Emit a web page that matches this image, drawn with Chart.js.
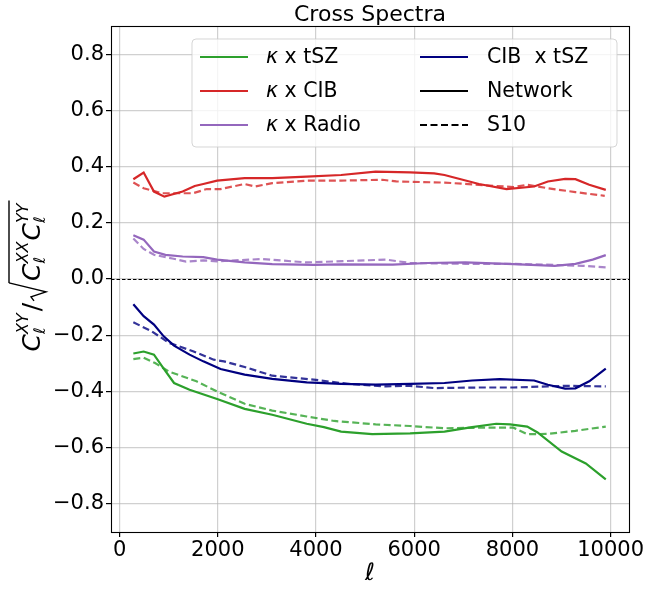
<!DOCTYPE html>
<html>
<head>
<meta charset="utf-8">
<script src="https://cdn.jsdelivr.net/npm/chart.js@4.4.1/dist/chart.umd.min.js"></script>
<style>
html,body{margin:0;padding:0;background:#fff;}
#wrap{width:647px;height:589px;position:relative;}
</style>
</head>
<body>
<div id="wrap"><canvas id="c" width="647" height="589"></canvas></div>
<script>
// ---- data ----
const xTicks = [0, 2000, 4000, 6000, 8000, 10000];
const yTicks = [-0.8, -0.6, -0.4, -0.2, 0.0, 0.2, 0.4, 0.6, 0.8];

const ellTszNet = [280,490,700,898,1109,1425,1986,2547,3109,3811,4161,4512,5144,5916,6617,7179,7670,7951,8302,8512,9004,9495,9902];
const tszNet    = [-0.265,-0.258,-0.269,-0.319,-0.370,-0.394,-0.427,-0.462,-0.483,-0.515,-0.527,-0.543,-0.552,-0.549,-0.543,-0.527,-0.515,-0.517,-0.525,-0.546,-0.614,-0.656,-0.713];
const ellTszS10 = [280,490,723,1004,1565,1986,2547,3109,3811,4372,5214,5916,6617,7319,8021,8302,8723,9284,9902];
const tszS10    = [-0.285,-0.280,-0.299,-0.329,-0.364,-0.400,-0.444,-0.468,-0.489,-0.505,-0.517,-0.523,-0.531,-0.529,-0.529,-0.552,-0.551,-0.540,-0.525];

const ellCibNet = [280,490,700,912,1284,1530,1705,1986,2547,3109,3811,4512,5214,5916,6407,6617,7319,7880,8442,8723,9074,9284,9565,9902];
const cibNet    = [0.355,0.379,0.311,0.293,0.311,0.331,0.338,0.350,0.359,0.359,0.364,0.370,0.382,0.379,0.376,0.370,0.338,0.320,0.329,0.347,0.356,0.355,0.335,0.317];
const ellCibS10 = [280,490,863,1004,1495,1775,2056,2547,2758,3109,3811,4512,5354,5635,6617,7319,8021,8302,8723,9284,9881];
const cibS10    = [0.343,0.323,0.305,0.305,0.305,0.320,0.320,0.338,0.329,0.341,0.350,0.350,0.353,0.347,0.343,0.335,0.327,0.335,0.323,0.309,0.296];

const ellRadNet = [280,490,700,933,1284,1705,1986,2547,3109,3951,4512,5565,6267,7039,8021,8863,9284,9635,9902];
const radNet    = [0.156,0.140,0.098,0.086,0.080,0.078,0.069,0.059,0.053,0.050,0.052,0.051,0.057,0.059,0.053,0.047,0.054,0.069,0.085];
const ellRadS10 = [280,490,700,1074,1354,1705,1986,2898,3811,5425,5916,7039,8021,8863,9425,9902];
const radS10    = [0.144,0.107,0.086,0.073,0.062,0.066,0.063,0.071,0.059,0.069,0.057,0.054,0.054,0.050,0.047,0.041];

const ellCtsNet = [280,490,700,898,1109,1425,1705,2056,2547,3109,3811,4512,5214,5916,6617,7179,7740,8442,8723,9074,9284,9565,9902];
const ctsNet    = [-0.090,-0.132,-0.162,-0.204,-0.237,-0.269,-0.293,-0.320,-0.340,-0.355,-0.368,-0.373,-0.376,-0.373,-0.370,-0.361,-0.356,-0.361,-0.376,-0.390,-0.389,-0.364,-0.319];
const ellCtsS10 = [280,653,1004,1495,1916,2126,2547,3109,3951,4652,5425,5916,6407,7319,8021,8723,9074,9902];
const ctsS10    = [-0.154,-0.186,-0.227,-0.257,-0.287,-0.293,-0.313,-0.344,-0.358,-0.373,-0.382,-0.380,-0.388,-0.386,-0.386,-0.382,-0.380,-0.382];

// legend entries: [italic prefix, rest]
const legendNames = [['\u03BA', ' x tSZ'], ['\u03BA', ' x CIB'], ['\u03BA', ' x Radio'], ['', 'CIB  x tSZ'], ['', 'Network'], ['', 'S10']];
const titleText = 'Cross Spectra';

// ---- styling ----
const GREEN = '#2ca02c', RED = '#d62728', PURPLE = '#9467bd', NAVY = '#000080';
const FONT = 'DejaVu Sans';

function pts(xs, ys){ return xs.map((x,i)=>({x:x, y:ys[i]})); }
function ds(label, xs, ys, color, dashed){
  return {
    label: label, data: pts(xs, ys), borderColor: color,
    borderWidth: 2.2, borderDash: dashed ? [7,3.5] : [],
    pointRadius: 0, tension: 0, fill: false,
    borderCapStyle: 'butt'
  };
}
function alpha(hex, a){
  const n = parseInt(hex.slice(1),16);
  return `rgba(${(n>>16)&255},${(n>>8)&255},${n&255},${a})`;
}

const datasets = [
  ds('tsz_net', ellTszNet, tszNet, GREEN, false),
  ds('tsz_s10', ellTszS10, tszS10, alpha(GREEN,0.8), true),
  ds('cib_net', ellCibNet, cibNet, RED, false),
  ds('cib_s10', ellCibS10, cibS10, alpha(RED,0.8), true),
  ds('rad_net', ellRadNet, radNet, PURPLE, false),
  ds('rad_s10', ellRadS10, radS10, alpha(PURPLE,0.8), true),
  ds('cts_net', ellCtsNet, ctsNet, NAVY, false),
  ds('cts_s10', ellCtsS10, ctsS10, alpha(NAVY,0.8), true),
];

const decor = {
  id: 'decor',
  beforeDatasetsDraw(chart){
    const ctx = chart.ctx, a = chart.chartArea, y = chart.scales.y;
    const y0 = Math.round(y.getPixelForValue(0)) + 0.5;
    ctx.save();
    ctx.strokeStyle = '#000'; ctx.lineWidth = 1; ctx.setLineDash([3.5,2]);
    ctx.beginPath(); ctx.moveTo(a.left, y0); ctx.lineTo(a.right, y0); ctx.stroke();
    ctx.restore();
  },
  afterDraw(chart){
    const ctx = chart.ctx, a = chart.chartArea;
    ctx.save();
    // frame
    ctx.strokeStyle = '#000'; ctx.lineWidth = 1.1; ctx.setLineDash([]);
    ctx.strokeRect(Math.round(a.left)+0.5, Math.round(a.top)+0.5, Math.round(a.right-a.left), Math.round(a.bottom-a.top));

    // title
    ctx.fillStyle = '#000';
    ctx.font = `22px "${FONT}"`;
    ctx.textAlign = 'center'; ctx.textBaseline = 'alphabetic';
    const cx = (a.left + a.right)/2;
    ctx.fillText(titleText, cx, 21);

    // x label
    ctx.font = `italic 24px "${FONT}"`;
    ctx.fillText('\u2113', cx, 580);

    // legend
    const lx = 192, ly = 39, lw = 425, lh = 108, r = 4;
    ctx.beginPath();
    ctx.moveTo(lx+r, ly); ctx.lineTo(lx+lw-r, ly); ctx.quadraticCurveTo(lx+lw, ly, lx+lw, ly+r);
    ctx.lineTo(lx+lw, ly+lh-r); ctx.quadraticCurveTo(lx+lw, ly+lh, lx+lw-r, ly+lh);
    ctx.lineTo(lx+r, ly+lh); ctx.quadraticCurveTo(lx, ly+lh, lx, ly+lh-r);
    ctx.lineTo(lx, ly+r); ctx.quadraticCurveTo(lx, ly, lx+r, ly);
    ctx.closePath();
    ctx.fillStyle = 'rgba(255,255,255,0.8)'; ctx.fill();
    ctx.strokeStyle = 'rgba(204,204,204,0.8)'; ctx.lineWidth = 1; ctx.stroke();

    const rows = [57, 91, 125];
    const items = [
      {col:0,row:0,color:GREEN,dash:false,text:legendNames[0]},
      {col:0,row:1,color:RED,dash:false,text:legendNames[1]},
      {col:0,row:2,color:PURPLE,dash:false,text:legendNames[2]},
      {col:1,row:0,color:NAVY,dash:false,text:legendNames[3]},
      {col:1,row:1,color:'#000',dash:false,text:legendNames[4]},
      {col:1,row:2,color:'#000',dash:true,text:legendNames[5]},
    ];
    const cols = [{h0:200,h1:248,t:266},{h0:420,h1:468,t:487}];
    ctx.textAlign = 'left'; ctx.textBaseline = 'middle';
    items.forEach(it=>{
      const c = cols[it.col], yy = rows[it.row];
      ctx.strokeStyle = it.color; ctx.lineWidth = 2.2;
      ctx.setLineDash(it.dash ? [7,3.5] : []);
      ctx.beginPath(); ctx.moveTo(c.h0, yy); ctx.lineTo(c.h1, yy); ctx.stroke();
      ctx.setLineDash([]);
      ctx.fillStyle = '#000';
      let tx = c.t;
      if (it.text[0]) {
        ctx.font = `italic 20.5px "${FONT}"`;
        ctx.fillText(it.text[0], tx, yy+1);
        tx += ctx.measureText(it.text[0]).width;
      }
      ctx.font = `20.5px "${FONT}"`;
      ctx.fillText(it.text[1], tx, yy+1);
    });

    // y label: C_l^XY / sqrt(C_l^XX C_l^YY)
    ctx.translate(40, (a.top + a.bottom)/2 - 3);
    ctx.rotate(-Math.PI/2);
    ctx.textAlign = 'left'; ctx.textBaseline = 'alphabetic';
    const big = `italic 25px "${FONT}"`, bigUp = `25px "${FONT}"`, small = `italic 16px "${FONT}"`;
    const parts = [];
    function C(sup){ parts.push({kind:'C', sup:sup}); }
    C('XY'); parts.push({kind:'txt', t:'/'}); parts.push({kind:'sqrtStart'});
    C('XX'); C('YY'); parts.push({kind:'sqrtEnd'});
    function widthOf(p){
      if (p.kind==='C'){
        ctx.font = big; const wc = ctx.measureText('C').width;
        ctx.font = small; const ws = Math.max(ctx.measureText(p.sup).width, ctx.measureText('\u2113').width);
        return wc + ws + 1;
      }
      if (p.kind==='txt'){ ctx.font = bigUp; return ctx.measureText(p.t).width + 2; }
      if (p.kind==='sqrtStart'){ return 21; }
      return 2;
    }
    const total = parts.reduce((s,p)=>s+widthOf(p),0);
    let x = -total/2, sqrtX0 = 0;
    parts.forEach(p=>{
      const w = widthOf(p);
      if (p.kind==='C'){
        ctx.font = big; ctx.fillText('C', x, 0);
        const wc = ctx.measureText('C').width;
        ctx.font = small;
        ctx.fillText(p.sup, x+wc, -12);
        ctx.fillText('\u2113', x+wc, 5);
      } else if (p.kind==='txt'){
        ctx.font = bigUp; ctx.fillText(p.t, x+1, 0);
      } else if (p.kind==='sqrtStart'){
        sqrtX0 = x;
        ctx.strokeStyle = '#000'; ctx.lineWidth = 1.4; ctx.setLineDash([]);
        ctx.beginPath();
        ctx.moveTo(x+1, -6); ctx.lineTo(x+5, -9); ctx.lineTo(x+10, 6); ctx.lineTo(x+19, -31);
        ctx.stroke();
      } else if (p.kind==='sqrtEnd'){
        ctx.beginPath(); ctx.moveTo(sqrtX0+19, -31); ctx.lineTo(x+2, -31); ctx.stroke();
      }
      x += w;
    });
    ctx.restore();
  }
};

const tickFmt = v => {
  const s = Number(v).toFixed(1);
  return s.replace('-', '\u2212');
};

new Chart(document.getElementById('c'), {
  type: 'line',
  data: { datasets: datasets },
  options: {
    responsive: false, animation: false,
    layout: { padding: { top: 26, right: 18, left: 0, bottom: 0 } },
    plugins: { legend: { display: false }, tooltip: { enabled: false }, title: { display: false } },
    scales: {
      x: {
        type: 'linear', min: -175, max: 10375,
        afterBuildTicks: s => { s.ticks = xTicks.map(v=>({value:v})); },
        afterFit: s => { s.height = 57; },
        grid: { color: 'rgba(176,176,176,0.6)', lineWidth: 1.2, tickLength: 5, tickColor: '#000', drawTicks: true },
        border: { display: false },
        ticks: { color: '#000', font: { family: FONT, size: 21 }, padding: 1, maxRotation: 0, autoSkip: false, callback: v => String(v) }
      },
      y: {
        type: 'linear', min: -0.9, max: 0.9,
        afterBuildTicks: s => { s.ticks = yTicks.map(v=>({value:v})); },
        afterFit: s => { s.width = 111; },
        grid: { color: 'rgba(176,176,176,0.6)', lineWidth: 1.2, tickLength: 5, tickColor: '#000', drawTicks: true },
        border: { display: false },
        ticks: { color: '#000', font: { family: FONT, size: 21 }, padding: 2, autoSkip: false, callback: tickFmt }
      }
    }
  },
  plugins: [decor]
});
</script>
</body>
</html>
